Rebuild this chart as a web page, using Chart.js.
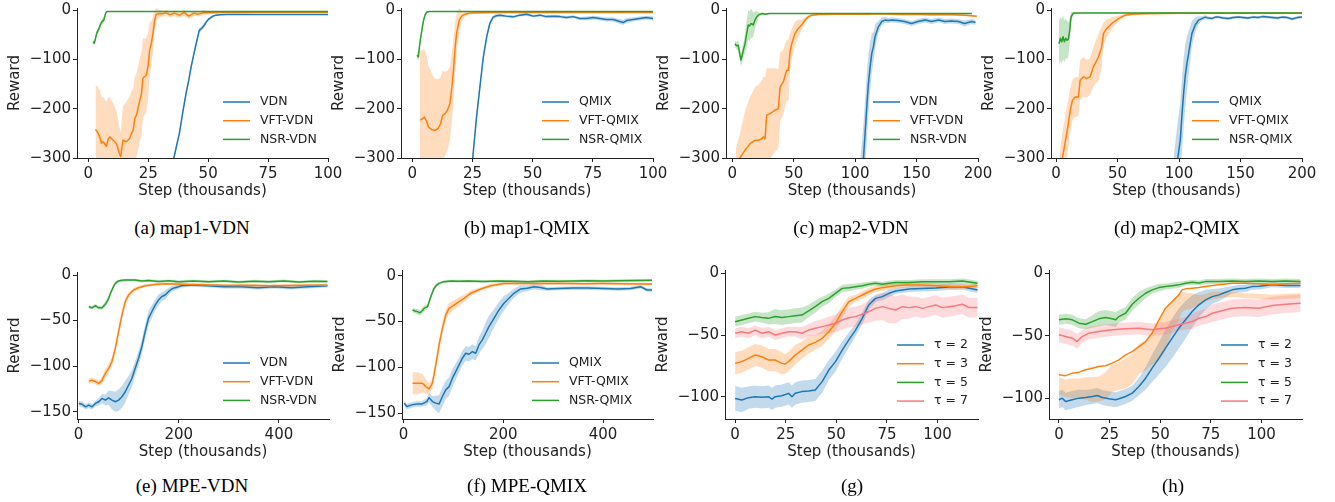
<!DOCTYPE html>
<html><head><meta charset="utf-8">
<script src="https://cdn.jsdelivr.net/npm/chart.js@4.4.0/dist/chart.umd.min.js"></script>
<style>
html,body{margin:0;padding:0;background:#fff;}
body{position:relative;width:1335px;height:502px;overflow:hidden;}
canvas{position:absolute;}
.cap{position:absolute;font-family:"Liberation Serif","Times New Roman",serif;font-size:19px;color:#000;white-space:nowrap;transform:translate(-50%,-50%);}
</style></head><body>
<script>
// ---------------- TICKS ----------------
const xticks_map1 = [0, 25, 50, 75, 100];
const xticks_map2 = [0, 50, 100, 150, 200];
const xticks_mpe = [0, 200, 400];
const xticks_tau = [0, 25, 50, 75, 100];
const yticks_map = [-300, -200, -100, 0];
const yticks_mpe = [-150, -100, -50, 0];
const yticks_tau = [-100, -50, 0];

// ---------------- DATA ----------------
// (a) map1-VDN
const a_vdn_x = [33, 35.7, 38, 39.5, 40.8, 42, 42.9, 44, 45, 46.3, 47.5, 48.4, 49.5, 50.5, 52, 53.3, 55, 57.5, 60, 65, 70, 80, 90, 100];
const a_vdn_y = [-360, -300, -250, -205, -169, -140, -115, -90, -68, -41, -36, -30, -22, -17, -12, -10, -9, -8.5, -8.5, -8.5, -8.5, -8.5, -8.5, -8.5];
const a_vdn_sd = [6, 6, 6, 6, 6, 6, 6, 5, 5, 5, 4, 4, 3, 3, 2, 2, 1, 1, 1, 1, 1, 1, 1, 1];
const a_vft_x = [3.0, 3.8, 4.8, 5.5, 6.2, 7.6, 8.3, 9.0, 10.4, 11.8, 12.9, 13.5, 14.5, 15.9, 17.3, 18.0, 18.7, 19.4, 20.1, 21.5, 22.2, 22.8, 24.2, 24.9, 25.6, 26.3, 27.0, 27.7, 28.4, 29.8, 31, 32.5, 34, 36, 38, 40, 42, 44, 46, 48, 50.5, 55, 60, 70, 80, 90, 100];
const a_vft_y = [-242, -247, -257, -270, -267, -276, -262, -257, -264, -271, -290, -297, -264, -267, -260, -250, -244, -220, -213, -183, -169, -138, -132, -115, -81, -67, -47, -20, -8, -6.8, -7, -5.4, -9, -6, -10, -5, -12, -6, -8, -5, -5, -4.5, -4.5, -4, -4, -4, -4];
const a_vft_sd = [90, 92, 95, 95, 90, 90, 85, 80, 75, 65, 55, 50, 70, 80, 85, 85, 85, 85, 85, 85, 85, 80, 75, 68, 55, 45, 35, 20, 12, 8, 6, 6, 6, 6, 6, 6, 6, 5, 5, 5, 3, 2, 2, 2, 2, 2, 2];
const a_nsr_x = [2, 2.5, 3, 3.5, 4, 4.5, 5, 5.5, 6, 6.5, 7, 7.5, 8, 10, 15, 20, 30, 40, 50, 60, 70, 80, 90, 100];
const a_nsr_y = [-64, -67, -58, -47, -42, -37, -30, -25, -22, -20, -10, -3.5, -2.5, -2.5, -2.5, -2.5, -2.5, -2.5, -2.5, -2.5, -2.5, -2.5, -2.5, -2.5];
const a_nsr_sd = [4, 4, 5, 5, 5, 5, 5, 5, 6, 6, 5, 2, 1, 1, 1, 1, 1, 1, 1, 1, 1, 1, 1, 1];

// (b) map1-QMIX
const b_qmix_x = [23.5, 25.1, 26.7, 28.1, 29.5, 30.9, 32.2, 33.6, 35, 36.4, 39, 41.9, 44.7, 47.5, 50.3, 53, 55.7, 58.5, 61.3, 64, 66.8, 69.6, 72.3, 75.1, 77.9, 80.6, 83.4, 86.2, 87.6, 89, 91.7, 94.5, 97.2, 100];
const b_qmix_y = [-340, -300, -216, -155, -95, -54, -27, -14, -11, -10, -12, -13.5, -10, -8, -12, -10, -13, -12, -13, -14.9, -13, -17, -17, -15, -17, -19, -19, -23, -25, -21, -19, -17, -15, -17];
const b_qmix_sd = [8, 8, 8, 8, 7, 6, 5, 4, 4, 3, 3, 3, 3, 3, 3, 3, 3, 3, 3, 3, 3, 3, 4, 4, 4, 4, 4, 5, 5, 5, 4, 4, 4, 4];
const b_vft_x = [3.2, 4.3, 5.0, 5.7, 6.7, 8.0, 9.4, 10.8, 11.8, 12.6, 13.6, 14.6, 15.6, 16.3, 17.0, 17.7, 18.4, 19.5, 20.5, 21.9, 24, 28, 35, 50, 60, 70, 80, 90, 100];
const b_vft_y = [-223, -220, -217, -223, -237, -242, -244, -240, -230, -213, -210, -203, -190, -163, -129, -81, -47, -20, -12, -8, -5.4, -5, -4.5, -4.5, -4.5, -4.5, -4.5, -4.5, -4.5];
const b_vft_sd = [140, 140, 138, 135, 125, 115, 105, 100, 95, 90, 85, 80, 75, 70, 65, 55, 40, 25, 10, 5, 3, 2, 2, 2, 2, 2, 2, 2, 2];
const b_nsr_x = [2, 2.5, 3, 3.5, 4, 4.6, 5.3, 6, 7, 8, 10, 20, 30, 40, 50, 60, 70, 80, 90, 100];
const b_nsr_y = [-91, -95, -72, -55, -40, -22, -10, -4, -2.5, -2.5, -2.5, -2.5, -2.5, -2.5, -2.5, -2.5, -2.5, -2.5, -2.5, -2.5];
const b_nsr_sd = [8, 8, 8, 8, 7, 6, 4, 2, 1, 1, 1, 1, 1, 1, 1, 1, 1, 1, 1, 1];

// (c) map2-VDN
const c_vdn_x = [104, 106.8, 108.1, 109.5, 110.8, 112.2, 113.5, 114.9, 116.2, 118.9, 121.6, 124.3, 127, 130, 135, 140, 146, 151, 157, 162, 168, 173, 178, 184, 189, 195, 198];
const c_vdn_y = [-370, -300, -250, -196, -149, -115, -88, -74, -54, -34, -23, -20, -21, -20, -21, -23, -27, -23, -20, -23, -20, -23, -22, -23, -27, -23, -25];
const c_vdn_sd = [60, 70, 70, 70, 60, 50, 40, 30, 25, 12, 8, 6, 5, 5, 5, 5, 5, 5, 5, 5, 5, 5, 5, 5, 6, 5, 5];
const c_vft_x = [3, 6.3, 10.4, 14.5, 18.5, 21.2, 24, 25.3, 26.7, 28, 30.8, 34.8, 37.5, 38.9, 41.6, 44.3, 45.7, 47, 48.4, 51.1, 53.8, 56.5, 59.2, 61.9, 64.7, 70.1, 80, 90, 100, 110, 120, 130, 140, 150, 160, 170, 180, 190, 199];
const c_vft_y = [-320, -300, -284, -271, -264, -264, -261, -257, -261, -213, -210, -203, -200, -156, -145, -122, -122, -85, -68, -47, -37, -30, -20, -13.5, -10, -8.8, -8, -8, -7.5, -8, -7, -8, -8.5, -8, -9, -8.5, -9, -10, -12];
const c_vft_sd = [40, 50, 80, 95, 108, 112, 118, 122, 125, 95, 92, 85, 80, 70, 65, 62, 62, 38, 30, 24, 18, 10, 6, 4, 3, 2, 2, 2, 2, 2, 2, 2, 2, 2, 2, 2, 2, 2, 2];
const c_nsr_x = [2.2, 3.5, 4.9, 6, 7.1, 8, 9, 10.4, 11.7, 13, 14.1, 15.2, 16.2, 17.1, 18.5, 19.8, 21.2, 22.8, 24.5, 27, 30, 40, 60, 80, 100, 120, 140, 160, 180, 195];
const c_nsr_y = [-68, -72, -71, -88, -101, -92, -81, -68, -48, -30, -32, -27, -28, -30, -20, -14, -10, -8, -6.8, -8, -6.5, -6.5, -6.5, -6.5, -6.5, -6.5, -6.5, -6.5, -6.5, -6.5];
const c_nsr_sd = [6, 8, 10, 12, 14, 14, 14, 20, 28, 30, 30, 30, 28, 25, 18, 12, 6, 3, 2, 2, 1, 1, 1, 1, 1, 1, 1, 1, 1, 1];

// (d) map2-QMIX
const d_qmix_x = [96, 99, 101, 102.3, 103.7, 105, 106.4, 107.8, 109.1, 110.5, 113.2, 115.9, 118.6, 121.3, 124, 126.7, 129.5, 132.2, 136, 140, 144, 148, 152, 156, 160, 164, 168, 172, 176, 180, 184, 188, 192, 196, 200];
const d_qmix_y = [-360, -300, -264, -216, -169, -135, -108, -88, -68, -47, -30, -20, -17, -14, -16, -17, -14, -14, -16, -17, -15, -14, -15, -16, -14, -15, -13, -14, -15, -16, -14, -15, -18, -15, -14];
const d_qmix_sd = [70, 75, 75, 75, 70, 65, 55, 45, 35, 25, 15, 8, 5, 4, 3, 3, 3, 3, 3, 3, 3, 3, 3, 3, 3, 3, 3, 3, 3, 3, 3, 3, 3, 3, 3];
const d_vft_x = [3, 5.2, 7.3, 10, 11.4, 13.3, 15.5, 18.2, 19.6, 22.3, 25, 27.7, 30.4, 34.5, 37.2, 38.6, 41.3, 45.3, 50.8, 56.2, 61.6, 70, 80, 100, 125, 150, 175, 200];
const d_vft_y = [-330, -300, -270, -230, -206, -183, -176, -176, -142, -135, -139, -135, -115, -95, -74, -47, -37, -27, -17, -10, -8, -7, -6.5, -6, -6, -6, -6, -6];
const d_vft_sd = [40, 50, 52, 50, 45, 42, 40, 40, 40, 40, 38, 37, 40, 48, 40, 22, 18, 12, 6, 3, 2, 2, 2, 2, 2, 2, 2, 2];
const d_nsr_x = [2.4, 3.5, 4.6, 5.7, 6.8, 7.9, 9, 10, 11.1, 12.2, 13.8, 15.5, 20, 30, 50, 75, 100, 125, 150, 175, 200];
const d_nsr_y = [-68, -57, -64, -54, -64, -57, -61, -59, -41, -13.5, -6.8, -5.5, -5.5, -5.5, -5.5, -5.5, -5.5, -5.5, -5.5, -5.5, -5.5];
const d_nsr_sd = [45, 45, 45, 45, 42, 40, 38, 35, 25, 10, 4, 2, 1, 1, 1, 1, 1, 1, 1, 1, 1];

// (e) MPE-VDN
const e_vdn_x = [0.7, 7.3, 14, 20.5, 27, 33.8, 40.4, 47, 53.6, 60.2, 66.8, 73.5, 80, 86.7, 93.3, 99.9, 106.6, 113, 119.8, 126.4, 133, 139.7, 146.3, 153, 159.6, 166, 173, 179.4, 186, 192.6, 205.8, 225, 258.8, 290, 325, 358, 391, 425, 457.5, 497];
const e_vdn_y = [-141, -142, -144.7, -142.9, -144.7, -141, -139.2, -135.5, -137.4, -134.8, -137.4, -139.2, -137.4, -133.7, -128.2, -120.9, -113.6, -102.6, -91.6, -78.8, -62.3, -47.6, -40.3, -33, -27.5, -23.8, -22, -18.3, -15.4, -13.9, -11.7, -11, -11.7, -12.8, -12.8, -13.9, -12.8, -13.9, -12.8, -11.7];
const e_vdn_sd = [3, 3, 3, 3, 3, 3, 4, 5, 6, 8, 10, 11, 12, 12, 12, 10, 9, 8, 8, 8, 8, 8, 7, 6, 6, 5, 5, 4, 3, 3, 2, 2, 2, 2, 2, 2, 2, 2, 2, 2];
const e_vft_x = [20.5, 27, 33.8, 40.4, 47, 53.6, 60.2, 66.8, 73.5, 80, 86.7, 93.3, 100, 110, 120, 133, 153, 173, 193, 220, 260, 300, 340, 380, 420, 460, 497];
const e_vft_y = [-116.5, -115.5, -117, -119, -115.7, -108, -102.6, -95, -80.6, -62.3, -44, -29.3, -22, -16.5, -13.9, -11.7, -10.3, -9.5, -9.8, -10.5, -11, -11.5, -11.2, -11.8, -11.5, -11.3, -11.2];
const e_vft_sd = [3, 3, 3, 3, 4, 5, 5, 5, 5, 5, 5, 4, 3, 2, 2, 1.5, 1.5, 1.5, 1.5, 1.5, 1.5, 1.5, 1.5, 1.5, 1.5, 1.5, 1.5];
const e_nsr_x = [20.5, 27, 33.8, 40.4, 47, 53.6, 57, 60.2, 63.5, 66.8, 70, 73.5, 77, 80, 86.7, 93.3, 100, 113, 126, 140, 160, 180, 200, 230, 260, 290, 320, 350, 380, 410, 440, 470, 497];
const e_nsr_y = [-34.8, -36, -33.7, -36, -35.9, -32.2, -29, -25.6, -20.5, -16.5, -12.5, -9.2, -7.5, -6.6, -5.8, -5.5, -5.5, -5.5, -6.6, -6, -7, -6.3, -7.5, -6.5, -7.3, -6.6, -7.8, -6.8, -7.3, -6.5, -7.8, -6.8, -7];
const e_nsr_sd = [2, 2, 2, 2, 2.5, 3, 3, 3, 3, 2.5, 2, 2, 2, 1.5, 1.5, 1.5, 1.5, 1.5, 1.5, 1.5, 1.5, 1.5, 1.5, 1.5, 1.5, 1.5, 1.5, 1.5, 1.5, 1.5, 1.5, 1.5, 1.5];

// (f) MPE-QMIX
const f_qmix_x = [1.3, 6.7, 16.7, 26.7, 36.7, 46.7, 51.3, 58, 64.7, 71.3, 78, 84.7, 91.3, 98, 104.7, 111.3, 118, 124.7, 131.3, 138, 144.7, 151.3, 158, 164.7, 171.3, 181.3, 191.3, 201.3, 211.3, 221.3, 234.7, 248, 261.3, 274.7, 288, 310, 340, 370, 400, 430, 455, 475, 488, 498];
const f_qmix_y = [-139, -142.7, -140.9, -140, -140, -137.3, -133, -137.3, -139, -140, -131.8, -124.5, -121, -111.8, -104.6, -97.3, -90, -84.6, -85.7, -82.8, -84.6, -75.5, -70, -62.8, -55.6, -46.5, -37.4, -30.1, -24.7, -19.2, -14.5, -13.8, -12, -13, -14.5, -14, -13.5, -13.5, -14, -14.5, -14, -12, -15.6, -15.6];
const f_qmix_sd = [3, 3, 3, 3, 3, 4, 5, 6, 8, 10, 10, 10, 10, 10, 9, 8, 8, 8, 8, 8, 8, 9, 10, 12, 12, 10, 9, 8, 6, 5, 4, 3, 3, 3, 2, 2, 2, 2, 2, 2, 2, 2, 2, 2];
const f_vft_x = [18, 28, 38, 44.7, 51.3, 58, 64.7, 71.3, 78, 84.7, 91.3, 101.3, 111.3, 121.3, 134.7, 154.7, 174.7, 201.3, 241, 280, 320, 360, 400, 440, 480, 498];
const f_vft_y = [-117.3, -117.3, -117.3, -121, -123.5, -117.3, -97.3, -75.5, -57.4, -42.8, -35.6, -32, -28.3, -24.7, -19.2, -14.5, -10.9, -8.4, -8.4, -8.6, -8.4, -8.8, -8.6, -8.8, -9, -9.1];
const f_vft_sd = [12, 12, 10, 8, 6, 6, 6, 6, 6, 6, 6, 5, 5, 4, 3, 2, 2, 1.5, 1.5, 1.5, 1.5, 1.5, 1.5, 1.5, 1.5, 1.5];
const f_nsr_x = [18, 23, 28, 33, 38, 41.3, 48, 54.7, 61.3, 66, 71.3, 81.3, 94.7, 110, 130, 160, 190, 220, 250, 280, 310, 340, 370, 400, 430, 460, 498];
const f_nsr_y = [-37.4, -38.5, -39.2, -40.5, -38, -35.6, -33.8, -22.9, -13.8, -10.5, -8.4, -6.5, -5.8, -6, -5.8, -6.3, -5.8, -6.2, -6.5, -5.8, -6, -5.8, -5.5, -5.8, -5.5, -5.3, -5.1];
const f_nsr_sd = [2.5, 2.5, 3, 3, 3, 3, 3, 3, 2.5, 2, 1.5, 1.5, 1.5, 1.5, 1.5, 1.5, 1.5, 1.5, 1.5, 1.5, 1.5, 1.5, 1.5, 1.5, 1.5, 1.5, 1.5];

// (g) tau sweep
const g_t2_x = [0, 3.3, 6.6, 9.9, 13.2, 16.5, 18.2, 19.8, 23.1, 26.4, 28.1, 29.7, 33, 36.3, 39.6, 43, 46.3, 49.6, 52.9, 56.2, 59.5, 62.8, 66, 69.4, 72.7, 76, 79.3, 82.6, 85.9, 92.5, 99.1, 105.7, 112.3, 119.8];
const g_t2_y = [-101.4, -102.7, -100.8, -100, -100.5, -100, -101.9, -100, -99.2, -97.3, -100, -97.3, -95.9, -95.4, -94.6, -87.8, -78.4, -71.6, -62.2, -54, -46, -36.5, -25.7, -20.3, -18.9, -16.2, -14.3, -13.5, -12.7, -12.2, -11.8, -11, -10.8, -13.5];
const g_t2_sd = [10, 10, 9, 9, 9, 9, 9, 9, 9, 9, 9, 9, 9, 9, 9, 9, 8, 8, 7, 6, 5, 5, 4, 3, 3, 3, 2.5, 2.5, 2.5, 2.5, 2.5, 2.5, 2.5, 2.5];
const g_t3_x = [0, 3.3, 6.6, 9.9, 13.2, 16.5, 19.8, 23.1, 24.8, 26.4, 29.7, 33, 36.3, 39.6, 43, 46.3, 49.6, 52.9, 56.2, 59.5, 62.8, 66, 69.4, 72.7, 76, 79.3, 85, 92.5, 100, 107, 114, 119.8];
const g_t3_y = [-73, -71.6, -68.9, -66.2, -67.6, -70.3, -70.3, -73, -73.5, -71.6, -66.2, -62.2, -58.1, -56, -52.7, -47.3, -40.5, -31.1, -23, -20.3, -17.6, -14.9, -12.7, -11.6, -10.8, -10, -9.5, -9.5, -10, -10.8, -10.8, -10];
const g_t3_sd = [9, 9, 9, 9, 9, 9, 9, 9, 8, 8, 8, 7, 7, 6, 6, 6, 6, 5, 4, 3, 3, 3, 2.5, 2.5, 2.5, 2, 2, 2, 2, 2, 2, 2];
const g_t5_x = [0, 3.3, 6.6, 9.9, 13.2, 16.5, 19.8, 23.1, 26.4, 29.7, 33, 36.3, 39.6, 43, 46.3, 49.6, 52.9, 56.2, 59.5, 62.8, 66, 69.4, 72.7, 76, 79.3, 85.9, 92.5, 99.1, 105.7, 112.3, 119.8];
const g_t5_y = [-39.2, -37.8, -36.5, -35.1, -35.9, -36.5, -35, -35.9, -35.1, -34.3, -33.8, -30.5, -27, -23, -20.3, -16.2, -12.2, -11.6, -10.8, -10, -8.9, -8.1, -8.9, -8.1, -7.4, -7.4, -6.8, -6.8, -6.8, -6.2, -8.1];
const g_t5_sd = [4, 4, 4, 4, 4, 5, 6, 6, 6, 6, 6, 5, 5, 4, 4, 3, 3, 3, 2.5, 2.5, 2, 2, 2, 2, 2, 2, 2, 2, 2, 2, 2];
const g_t7_x = [0, 3.3, 6.6, 9.9, 13.2, 16.5, 19.8, 23.1, 26.4, 29.7, 33, 36.3, 39.6, 43, 46.3, 49.6, 52.9, 56.2, 59.5, 62.8, 66, 69.4, 72.7, 76, 79.3, 82.6, 85.9, 89.2, 92.5, 95.8, 99.1, 102.4, 105.7, 109, 112.3, 115.6, 119.8];
const g_t7_y = [-48.6, -47.3, -48.6, -46, -48.6, -47.3, -50, -48.6, -47.3, -47.3, -48.6, -46, -44.6, -43.2, -41.9, -40.5, -37.8, -36, -35.1, -33.2, -31.1, -28.4, -27, -28.4, -29.7, -27, -27.8, -27, -28.4, -27, -25.7, -27.8, -27, -26.2, -25.1, -27.8, -27.8];
const g_t7_sd = [4, 4, 4, 4, 4, 4, 4, 4, 4, 4, 5, 5, 6, 6, 7, 7, 8, 8, 8, 8, 9, 10, 11, 12, 11, 10, 9, 8, 8, 8, 8, 8, 8, 8, 8, 8, 8];

// (h) tau sweep
const h_t2_x = [0, 1.6, 3.3, 6.6, 9.9, 13.2, 16.5, 19, 21.4, 24.7, 28, 29.6, 32.9, 36.2, 39.5, 42.8, 46, 49.4, 52.6, 55.9, 59.2, 62.5, 65.8, 69.1, 72.4, 75.7, 79, 82.3, 85.5, 88.8, 92, 95.3, 98.7, 105.3, 112, 119.3];
const h_t2_y = [-101.3, -100, -102.7, -101.3, -100, -99.5, -98.7, -97.9, -99.5, -100.5, -101.3, -100.5, -98.7, -96, -90.7, -84, -76, -68, -60, -52, -44, -37.3, -30.7, -25.3, -21.3, -18.7, -17.3, -15.2, -13.3, -12.5, -12, -10.7, -10.5, -9.3, -9.9, -9.9];
const h_t2_sd = [7, 7, 7, 7, 7, 6, 6, 6, 6, 6, 6, 6, 6, 6, 7, 9, 11, 13, 15, 16, 16, 15, 13, 10, 8, 6, 5, 4, 3, 3, 3, 2.5, 2.5, 2, 2, 2];
const h_t3_x = [0, 3.3, 6.6, 9.9, 13.2, 16.5, 19.7, 23, 26.3, 29.6, 32.9, 36.2, 39.5, 42.8, 46, 49.4, 52.6, 55.9, 59.2, 60.8, 62.5, 65.8, 69.1, 72.4, 75.7, 79, 85.5, 92, 98.7, 105.3, 112, 119.3];
const h_t3_y = [-81.3, -82, -80, -79.2, -77.3, -76, -74.7, -74.1, -72, -69.3, -65.3, -62.7, -58.7, -54.7, -48, -37.3, -28, -22.7, -17.3, -13.3, -12.5, -12, -11.5, -10.7, -9.9, -9.3, -8, -8, -8.5, -9.3, -8.5, -8];
const h_t3_bandshift = [-9, -10, -12, -13, -15, -17, -18, -16, -12, -13, -15, -14, -10, -11, -12, -17, -17, -12, -10, -10, -10, -10, -10, -9, -8, -8, -9, -10, -10, -10, -10, -10];
const h_t3_sd = [7, 7, 8, 8, 9, 10, 10, 11, 11, 11, 12, 12, 12, 12, 13, 16, 17, 12, 10, 8, 7, 6, 4, 3, 3, 2.5, 2, 2, 2, 2, 2, 2];
const h_t5_x = [0, 3.3, 6.6, 9.9, 13.2, 16.5, 19.7, 23, 26.3, 28, 29.6, 32.9, 36.2, 39.5, 42.8, 46, 49.4, 52.6, 55.9, 59.2, 62.5, 65.8, 69.1, 72.4, 79, 85.5, 92, 98.7, 105.3, 112, 119.3];
const h_t5_y = [-37.3, -36.5, -37.3, -40, -40.8, -38.7, -36.5, -35.5, -36.5, -37.3, -34.7, -32, -24.8, -20, -16, -13.3, -11.5, -10.7, -10, -9.3, -8, -7.2, -7.8, -6.7, -6.7, -6.3, -6.7, -6.3, -6.7, -6.3, -6.7];
const h_t5_sd = [4, 4, 4, 4, 4, 5, 6, 6, 6, 6, 5, 5, 5, 5, 4, 3, 3, 2.5, 2.5, 2.5, 2, 2, 2, 2, 2, 2, 2, 2, 2, 2, 2];
const h_t7_x = [0, 3.3, 6.6, 9, 11.5, 14.8, 19.7, 26.3, 32.9, 39.5, 46, 49.4, 52.6, 55.9, 59.2, 62.5, 65.8, 69.1, 72.4, 75.7, 79, 82.3, 85.5, 92, 98.7, 105.3, 112, 119.3];
const h_t7_y = [-49.3, -50.7, -52, -54.7, -50.7, -48, -46.7, -45.3, -44.5, -44, -45.3, -44.5, -44, -42.7, -41.3, -40, -38.7, -36, -34.7, -32, -30.7, -29.3, -28, -27.5, -28, -25.9, -24.8, -24];
const h_t7_sd = [6, 6, 6, 6, 5, 5, 5, 5, 5, 5, 5, 5, 5, 5, 5, 5, 6, 6, 6, 7, 7, 7, 7, 7, 7, 7, 7, 7];

// ---------------- STYLE / LAYOUT ----------------
const BLUE = '#1f77b4', ORANGE = '#ff7f0e', GREEN = '#2ca02c', PINK = '#f7797c';
const TXT = '#222222';
function rgba(hex, a) { const n = parseInt(hex.slice(1), 16); return `rgba(${n >> 16},${(n >> 8) & 255},${n & 255},${a})`; }
const fmtTick = v => String(v).replace('-', '\u2212');

const mplLegend = {
  id: 'mplLegend',
  afterDraw(chart, args, o) {
    const ctx = chart.ctx;
    ctx.save();
    ctx.font = '12.5px "DejaVu Sans"';
    ctx.textBaseline = 'middle';
    ctx.textAlign = 'left';
    const lines = chart.data.datasets.filter(d => d.label);
    lines.forEach((d, i) => {
      const y = o.y + i * o.dy;
      ctx.strokeStyle = d.borderColor; ctx.lineWidth = 1.5;
      ctx.beginPath(); ctx.moveTo(o.x, y); ctx.lineTo(o.x + 27, y); ctx.stroke();
      ctx.fillStyle = TXT;
      ctx.fillText(d.label, o.x + 37, y);
    });
    ctx.restore();
  }
};

const PAD_L = 77, PAD_T = 12, PAD_R = 25, PAD_B = 52;

function build(p) {
  const W = p.R - p.L + PAD_L + PAD_R, H = p.B - p.T + PAD_T + PAD_B;
  const cl = p.L - PAD_L, ct = p.T - PAD_T;
  const cv = document.createElement('canvas');
  cv.width = W; cv.height = H;
  cv.style.left = cl + 'px'; cv.style.top = ct + 'px';
  cv.style.width = W + 'px'; cv.style.height = H + 'px';
  document.body.appendChild(cv);
  const ds = [];
  p.series.forEach((s, i) => {
    const sh = k => (s.shift ? s.shift[k] : 0);
    ds.push({ data: s.x.map((x, k) => ({ x, y: s.y[k] + sh(k) - s.sd[k] })), borderWidth: 0, borderColor: 'rgba(0,0,0,0)', pointRadius: 0, fill: false, order: 100 - i });
    ds.push({ data: s.x.map((x, k) => ({ x, y: s.y[k] + sh(k) + s.sd[k] })), borderWidth: 0, borderColor: 'rgba(0,0,0,0)', pointRadius: 0, fill: '-1', backgroundColor: rgba(s.color, 0.27), order: 100 - i });
  });
  p.series.forEach((s, i) => {
    ds.push({ label: s.label, data: s.x.map((x, k) => ({ x, y: s.y[k] })), borderColor: s.color, borderWidth: 1.5, pointRadius: 0, fill: false, order: 50 - i, borderJoinStyle: 'round' });
  });
  const font = { family: 'DejaVu Sans', size: 15 };
  new Chart(cv, {
    type: 'line',
    data: { datasets: ds },
    plugins: [mplLegend],
    options: {
      responsive: false, animation: false, devicePixelRatio: 1,
      layout: { padding: { left: 0, top: PAD_T, right: PAD_R, bottom: 0 } },
      plugins: {
        legend: { display: false }, tooltip: { enabled: false },
        mplLegend: { x: p.legX - cl, y: p.legY - ct, dy: 18.7 }
      },
      scales: {
        x: {
          type: 'linear', min: p.xmin, max: p.xmax,
          afterBuildTicks: s => { s.ticks = p.xticks.map(v => ({ value: v })); },
          afterFit: s => { s.height = PAD_B; },
          ticks: { color: TXT, font, padding: 3, maxRotation: 0, autoSkip: false, callback: fmtTick },
          grid: { drawOnChartArea: false, drawTicks: true, tickLength: 4, color: TXT, tickWidth: 1 },
          border: { display: true, color: TXT, width: 1 },
          title: { display: true, text: 'Step (thousands)', color: TXT, font, padding: { top: 0, bottom: 10 } }
        },
        y: {
          type: 'linear', min: p.ymin, max: p.ymax,
          afterBuildTicks: s => { s.ticks = p.yticks.map(v => ({ value: v })); },
          afterFit: s => { s.width = PAD_L; },
          ticks: { color: TXT, font, padding: 2, autoSkip: false, callback: fmtTick },
          grid: { drawOnChartArea: false, drawTicks: true, tickLength: 4, color: TXT, tickWidth: 1 },
          border: { display: true, color: TXT, width: 1 },
          title: { display: true, text: 'Reward', color: TXT, font, padding: { top: 6, bottom: 0 } }
        }
      }
    }
  });
  const cap = document.createElement('div');
  cap.className = 'cap';
  cap.textContent = p.caption;
  cap.style.left = p.capX + 'px'; cap.style.top = p.capY + 'px';
  document.body.appendChild(cap);
}

const S = (label, color, x, y, sd, shift) => ({ label, color, x, y, sd, shift });

const panels = [
  { L: 77, R: 328, T: 8, B: 158, xmin: -4.7, xmax: 100, xticks: xticks_map1, ymin: -300, ymax: 4.5, yticks: yticks_map, legX: 223, legY: 102, caption: '(a) map1-VDN', capX: 192, capY: 228,
    series: [S('VDN', BLUE, a_vdn_x, a_vdn_y, a_vdn_sd), S('VFT-VDN', ORANGE, a_vft_x, a_vft_y, a_vft_sd), S('NSR-VDN', GREEN, a_nsr_x, a_nsr_y, a_nsr_sd)] },
  { L: 401, R: 653, T: 8, B: 158, xmin: -4.7, xmax: 100, xticks: xticks_map1, ymin: -300, ymax: 4.5, yticks: yticks_map, legX: 542, legY: 102, caption: '(b) map1-QMIX', capX: 527, capY: 228,
    series: [S('QMIX', BLUE, b_qmix_x, b_qmix_y, b_qmix_sd), S('VFT-QMIX', ORANGE, b_vft_x, b_vft_y, b_vft_sd), S('NSR-QMIX', GREEN, b_nsr_x, b_nsr_y, b_nsr_sd)] },
  { L: 726, R: 978, T: 8, B: 158, xmin: -5.1, xmax: 200, xticks: xticks_map2, ymin: -300, ymax: 4.5, yticks: yticks_map, legX: 873, legY: 102, caption: '(c) map2-VDN', capX: 851, capY: 228,
    series: [S('VDN', BLUE, c_vdn_x, c_vdn_y, c_vdn_sd), S('VFT-VDN', ORANGE, c_vft_x, c_vft_y, c_vft_sd), S('NSR-VDN', GREEN, c_nsr_x, c_nsr_y, c_nsr_sd)] },
  { L: 1051, R: 1302, T: 8, B: 158, xmin: -4.1, xmax: 200, xticks: xticks_map2, ymin: -300, ymax: 4.5, yticks: yticks_map, legX: 1192, legY: 102, caption: '(d) map2-QMIX', capX: 1177, capY: 228,
    series: [S('QMIX', BLUE, d_qmix_x, d_qmix_y, d_qmix_sd), S('VFT-QMIX', ORANGE, d_vft_x, d_vft_y, d_vft_sd), S('NSR-QMIX', GREEN, d_nsr_x, d_nsr_y, d_nsr_sd)] },
  { L: 77, R: 329, T: 272, B: 419, xmin: -3, xmax: 500, xticks: xticks_mpe, ymin: -158.1, ymax: 3.3, yticks: yticks_mpe, legX: 223, legY: 363, caption: '(e) MPE-VDN', capX: 192, capY: 486,
    series: [S('VDN', BLUE, e_vdn_x, e_vdn_y, e_vdn_sd), S('VFT-VDN', ORANGE, e_vft_x, e_vft_y, e_vft_sd), S('NSR-VDN', GREEN, e_nsr_x, e_nsr_y, e_nsr_sd)] },
  { L: 402, R: 653, T: 270, B: 419, xmin: -3, xmax: 500, xticks: xticks_mpe, ymin: -156.3, ymax: 6.2, yticks: yticks_mpe, legX: 532, legY: 363, caption: '(f) MPE-QMIX', capX: 527, capY: 486,
    series: [S('QMIX', BLUE, f_qmix_x, f_qmix_y, f_qmix_sd), S('VFT-QMIX', ORANGE, f_vft_x, f_vft_y, f_vft_sd), S('NSR-QMIX', GREEN, f_nsr_x, f_nsr_y, f_nsr_sd)] },
  { L: 725, R: 978, T: 270, B: 419, xmin: -5, xmax: 120, xticks: xticks_tau, ymin: -118.1, ymax: 2.7, yticks: yticks_tau, legX: 897, legY: 345, caption: '(g)', capX: 852, capY: 486,
    series: [S('τ = 2', BLUE, g_t2_x, g_t2_y, g_t2_sd), S('τ = 3', ORANGE, g_t3_x, g_t3_y, g_t3_sd), S('τ = 5', GREEN, g_t5_x, g_t5_y, g_t5_sd), S('τ = 7', PINK, g_t7_x, g_t7_y, g_t7_sd)] },
  { L: 1049, R: 1302, T: 270, B: 419, xmin: -4.9, xmax: 120, xticks: xticks_tau, ymin: -116.7, ymax: 2.6, yticks: yticks_tau, legX: 1221, legY: 345, caption: '(h)', capX: 1173, capY: 486,
    series: [S('τ = 2', BLUE, h_t2_x, h_t2_y, h_t2_sd), S('τ = 3', ORANGE, h_t3_x, h_t3_y, h_t3_sd, h_t3_bandshift), S('τ = 5', GREEN, h_t5_x, h_t5_y, h_t5_sd), S('τ = 7', PINK, h_t7_x, h_t7_y, h_t7_sd)] }
];

panels.forEach(build);
</script>
</body></html>
